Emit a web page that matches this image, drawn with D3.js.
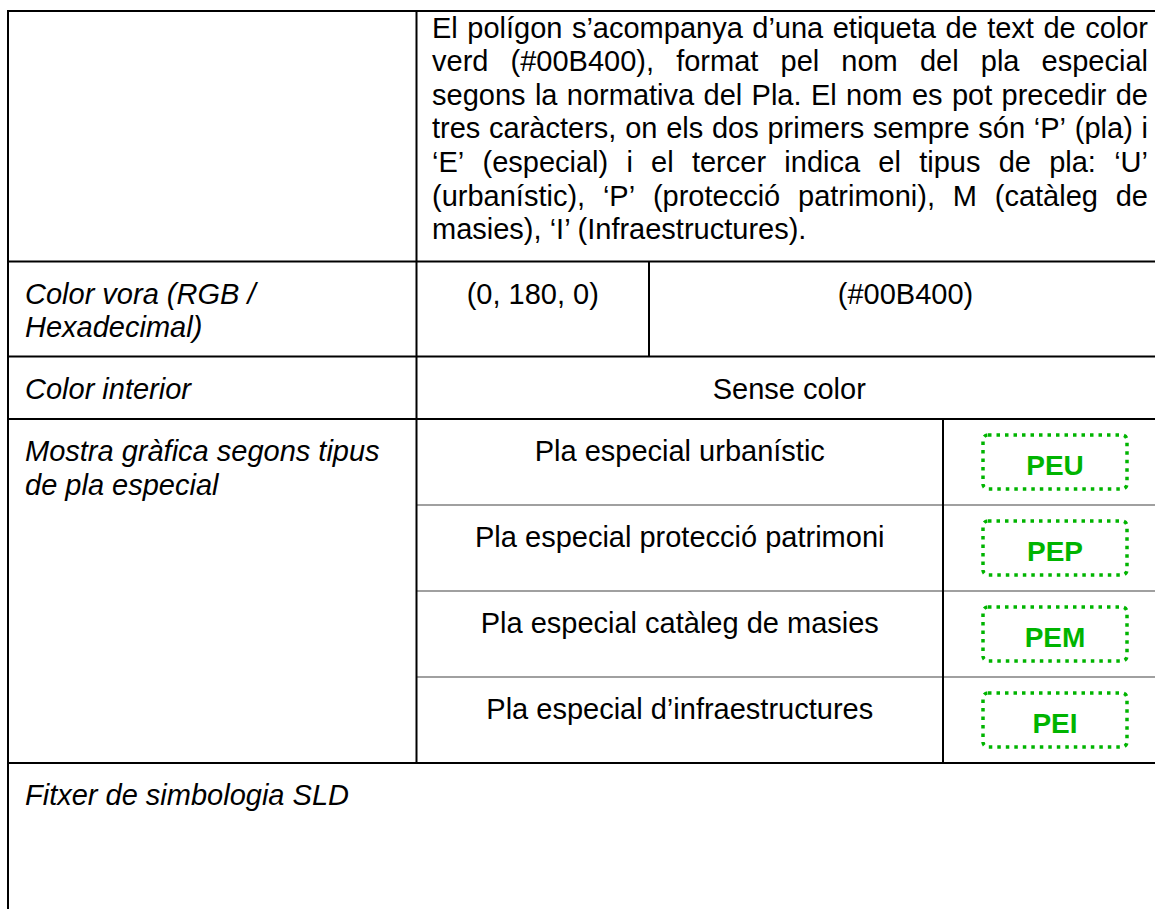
<!DOCTYPE html>
<html><head><meta charset="utf-8">
<script src="https://cdn.jsdelivr.net/npm/d3@7"></script>
<style>body{margin:0;background:#fff}svg{display:block}</style>
</head><body><svg id="c" width="1155" height="909"></svg>
<script>
// ---- data ----
const descLines = [
  "El polígon s’acompanya d’una etiqueta de text de color",
  "verd (#00B400), format pel nom del pla especial",
  "segons la normativa del Pla. El nom es pot precedir de",
  "tres caràcters, on els dos primers sempre són ‘P’ (pla) i",
  "‘E’ (especial) i el tercer indica el tipus de pla: ‘U’",
  "(urbanístic), ‘P’ (protecció patrimoni), M (catàleg de",
  "masies), ‘I’ (Infraestructures)."
];
const rowLabels = [
  ["Color vora (RGB /", "Hexadecimal)"],
  ["Color interior"],
  ["Mostra gràfica segons tipus", "de pla especial"],
  ["Fitxer de simbologia SLD"]
];
const rgbValue = "(0, 180, 0)";
const hexValue = "(#00B400)";
const interiorValue = "Sense color";
const planTypes = [
  "Pla especial urbanístic",
  "Pla especial protecció patrimoni",
  "Pla especial catàleg de masies",
  "Pla especial d’infraestructures"
];
const planCodes = ["PEU", "PEP", "PEM", "PEI"];
const green = "#00B400";

// ---- layout ----
const svg = d3.select("#c");
const FONT = "Arial, 'Liberation Sans', Helvetica, sans-serif";
const FS = 29, LH = 33.6;
const X0 = 8, X1 = 416.5, X2 = 649, X3 = 943, XR = 1162;
const rowY = [11, 261.5, 356.5, 419, 763, 1000];
const sub = d3.scaleBand().domain(planCodes).range([rowY[3], rowY[4]]);
const planOf = d3.scaleOrdinal().domain(planCodes).range(planTypes);

function txt(g) {
  return g.append("text").attr("font-family", FONT).attr("font-size", FS).attr("fill", "#000");
}

// gray sub-row separators
svg.append("g").selectAll("line").data(planCodes.slice(1)).join("line")
  .attr("x1", X1).attr("x2", XR)
  .attr("y1", d => sub(d)).attr("y2", d => sub(d))
  .attr("stroke", "#808080").attr("stroke-width", 1.5);

// black grid
const hLines = rowY.slice(0, 5).map(y => ({x1: X0, x2: XR, y1: y, y2: y}));
const vLines = [
  {x1: X0, x2: X0, y1: rowY[0] - 1, y2: 920},
  {x1: X1, x2: X1, y1: rowY[0], y2: rowY[4]},
  {x1: X2, x2: X2, y1: rowY[1], y2: rowY[2]},
  {x1: X3, x2: X3, y1: rowY[3], y2: rowY[4]}
];
svg.append("g").selectAll("line").data(hLines.concat(vLines)).join("line")
  .attr("x1", d => d.x1).attr("x2", d => d.x2)
  .attr("y1", d => d.y1).attr("y2", d => d.y2)
  .attr("stroke", "#000").attr("stroke-width", 2);

// justified description
const gd = svg.append("g");
const L = 432, R = 1148, W = R - L;
descLines.forEach((line, i) => {
  const t = txt(gd).attr("y", 37.5 + i * LH);
  if (i === descLines.length - 1) { t.attr("x", L).text(line); return; }
  const words = line.split(" ");
  const ws = words.map(w => {
    const tmp = txt(gd).text(w);
    const l = tmp.node().getComputedTextLength();
    tmp.remove();
    return l;
  });
  const gap = (W - d3.sum(ws)) / (words.length - 1);
  let x = L;
  words.forEach((w, j) => { t.append("tspan").attr("x", x).text(w); x += ws[j] + gap; });
});

// left labels (italic)
const labelRows = [1, 2, 3, 4];
const gl = svg.append("g");
rowLabels.forEach((lines, k) => {
  lines.forEach((s, j) => {
    txt(gl).attr("x", 25).attr("y", rowY[labelRows[k]] + 42 + j * LH)
      .attr("font-style", "italic").text(s);
  });
});

// row 2 values
txt(svg).attr("x", (X1 + X2) / 2).attr("y", rowY[1] + 42).attr("text-anchor", "middle").text(rgbValue);
txt(svg).attr("x", (X2 + XR) / 2).attr("y", rowY[1] + 42).attr("text-anchor", "middle").text(hexValue);
// row 3 value
txt(svg).attr("x", (X1 + XR) / 2).attr("y", rowY[2] + 42).attr("text-anchor", "middle").text(interiorValue);

// plan types
const gp = svg.append("g").selectAll("g").data(planCodes).join("g")
  .attr("transform", d => `translate(0,${sub(d)})`);
gp.append("text").attr("font-family", FONT).attr("font-size", FS)
  .attr("x", (X1 + X3) / 2).attr("y", 42).attr("text-anchor", "middle")
  .text(d => planOf(d));
gp.append("rect").attr("x", 983).attr("y", 16).attr("width", 144).attr("height", 54)
  .attr("rx", 5).attr("fill", "none").attr("stroke", green)
  .attr("stroke-width", 3.5).attr("stroke-dasharray", "3.5 5");
gp.append("text").attr("font-family", FONT).attr("font-size", 28).attr("font-weight", "bold")
  .attr("fill", green).attr("x", 1055).attr("y", 56).attr("text-anchor", "middle")
  .text(d => d);
</script></body></html>
